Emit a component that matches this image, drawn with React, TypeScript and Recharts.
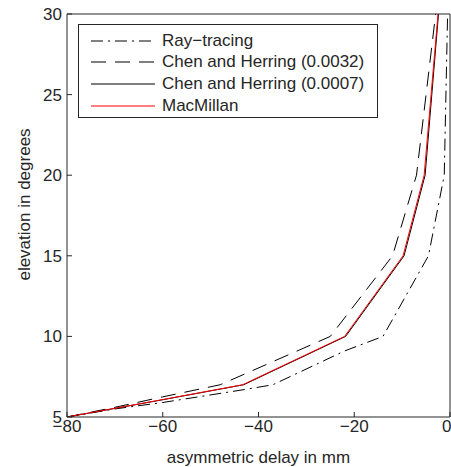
import React from "react";
import { Line, LineChart, XAxis, YAxis } from "recharts";

// asymmetric delay (mm) vs elevation (deg)
const rayX = [-80, -70, -60, -43, -37, -22, -14, -4.5, -1.2, -0.5];
const rayY = [5, 5.5, 5.9, 6.7, 7, 9.1, 10, 15, 20, 30];

const chen32X = [-80, -70, -60, -48, -25, -12, -7, -3];
const chen32Y = [5, 5.6, 6.25, 7, 10, 15, 20, 30];

const chen07X = [-80, -61.3, -43.1, -21.8, -9.6, -5.2, -2.4];
const chen07Y = [5, 6, 7, 10, 15, 20, 30];

const macX = [-80, -61.5, -43.3, -22, -9.8, -5.4, -2.5];
const macY = [5, 6, 7, 10, 15, 20, 30];

const xTicks = [-80, -60, -40, -20, 0];
const yTicks = [5, 10, 15, 20, 25, 30];

const toPoints = (xs: number[], ys: number[]) => xs.map((x, i) => ({ x, y: ys[i] }));

const FONT = "'Liberation Sans', Arial, sans-serif";
const TEXT = "#262626";
const DASH_DOT = "12 5 2 5";
const DASHED = "15 9";

type LegendItem = { name: string; color: string; dash?: string };
const legendItems: LegendItem[] = [
  { name: "Ray\u2212tracing", color: "#000", dash: DASH_DOT },
  { name: "Chen and Herring (0.0032)", color: "#000", dash: DASHED },
  { name: "Chen and Herring (0.0007)", color: "#000" },
  { name: "MacMillan", color: "#ff0000" },
];

const YLabel = (props: any) => {
  const vb = props.viewBox || { x: 0, y: 0, width: 0, height: 0 };
  const cx = 24;
  const cy = vb.y + vb.height / 2 - 11;
  return (
    <text x={cx} y={cy} transform={`rotate(-90 ${cx} ${cy})`} textAnchor="middle" dominantBaseline="central" fill={TEXT} fontSize={17} fontFamily={FONT}>
      elevation in degrees
    </text>
  );
};

const XLabel = (props: any) => {
  const vb = props.viewBox || { x: 0, y: 0, width: 0, height: 0 };
  return (
    <text x={vb.x + vb.width / 2} y={463} textAnchor="middle" fill={TEXT} fontSize={17} fontFamily={FONT}>
      asymmetric delay in mm
    </text>
  );
};

export default function App() {
  const tickStyle = { fill: TEXT, fontSize: 17, fontFamily: FONT };
  return (
    <div style={{ position: "absolute", left: 0, top: 0, width: 451, height: 467, background: "#fff" }}>
      <LineChart width={451} height={467} margin={{ top: 13, right: 0, left: 0, bottom: 0 }}>
        <XAxis
          xAxisId="bottom"
          type="number"
          dataKey="x"
          domain={[-80, 0]}
          ticks={xTicks}
          allowDataOverflow
          height={50}
          stroke={TEXT}
          tick={tickStyle}
          tickSize={-5}
          tickMargin={8}
          tickFormatter={(v: number) => String(v).replace("-", "\u2212")}
          label={<XLabel />}
        />
        <XAxis xAxisId="top" orientation="top" type="number" dataKey="x" domain={[-80, 0]} ticks={xTicks} height={1} stroke={TEXT} tick={false} tickSize={-5} />
        <YAxis
          yAxisId="left"
          type="number"
          dataKey="y"
          domain={[5, 30]}
          ticks={yTicks}
          allowDataOverflow
          width={67}
          stroke={TEXT}
          tick={tickStyle}
          tickSize={-5}
          tickMargin={10}
          label={<YLabel />}
        />
        <YAxis yAxisId="right" orientation="right" type="number" dataKey="y" domain={[5, 30]} ticks={yTicks} width={1} stroke={TEXT} tick={false} tickSize={-5} />
        <Line xAxisId="bottom" yAxisId="left" data={toPoints(rayX, rayY)} dataKey="y" stroke="#000" strokeWidth={1} strokeDasharray={DASH_DOT} dot={false} isAnimationActive={false} />
        <Line xAxisId="bottom" yAxisId="left" data={toPoints(chen32X, chen32Y)} dataKey="y" stroke="#000" strokeWidth={1} strokeDasharray={DASHED} dot={false} isAnimationActive={false} />
        <Line xAxisId="bottom" yAxisId="left" data={toPoints(chen07X, chen07Y)} dataKey="y" stroke="#000" strokeWidth={1} dot={false} isAnimationActive={false} />
        <Line xAxisId="bottom" yAxisId="left" data={toPoints(macX, macY)} dataKey="y" stroke="#ff0000" strokeWidth={1} dot={false} isAnimationActive={false} />
      </LineChart>
      <div
        style={{
          position: "absolute",
          left: 78,
          top: 24,
          width: 298,
          height: 92,
          border: `1px solid ${TEXT}`,
          background: "#fff",
          fontFamily: FONT,
          fontSize: 17,
          color: TEXT,
          boxSizing: "content-box",
        }}
      >
        {legendItems.map((item, i) => (
          <div key={item.name} style={{ position: "absolute", left: 12, top: 5 + i * 21.7, height: 21, display: "flex", alignItems: "center", whiteSpace: "nowrap" }}>
            <svg width={64} height={4} style={{ marginRight: 7 }}>
              <line x1={0} y1={2} x2={64} y2={2} stroke={item.color} strokeWidth={1} strokeDasharray={item.dash} />
            </svg>
            <span>{item.name}</span>
          </div>
        ))}
      </div>
    </div>
  );
}
